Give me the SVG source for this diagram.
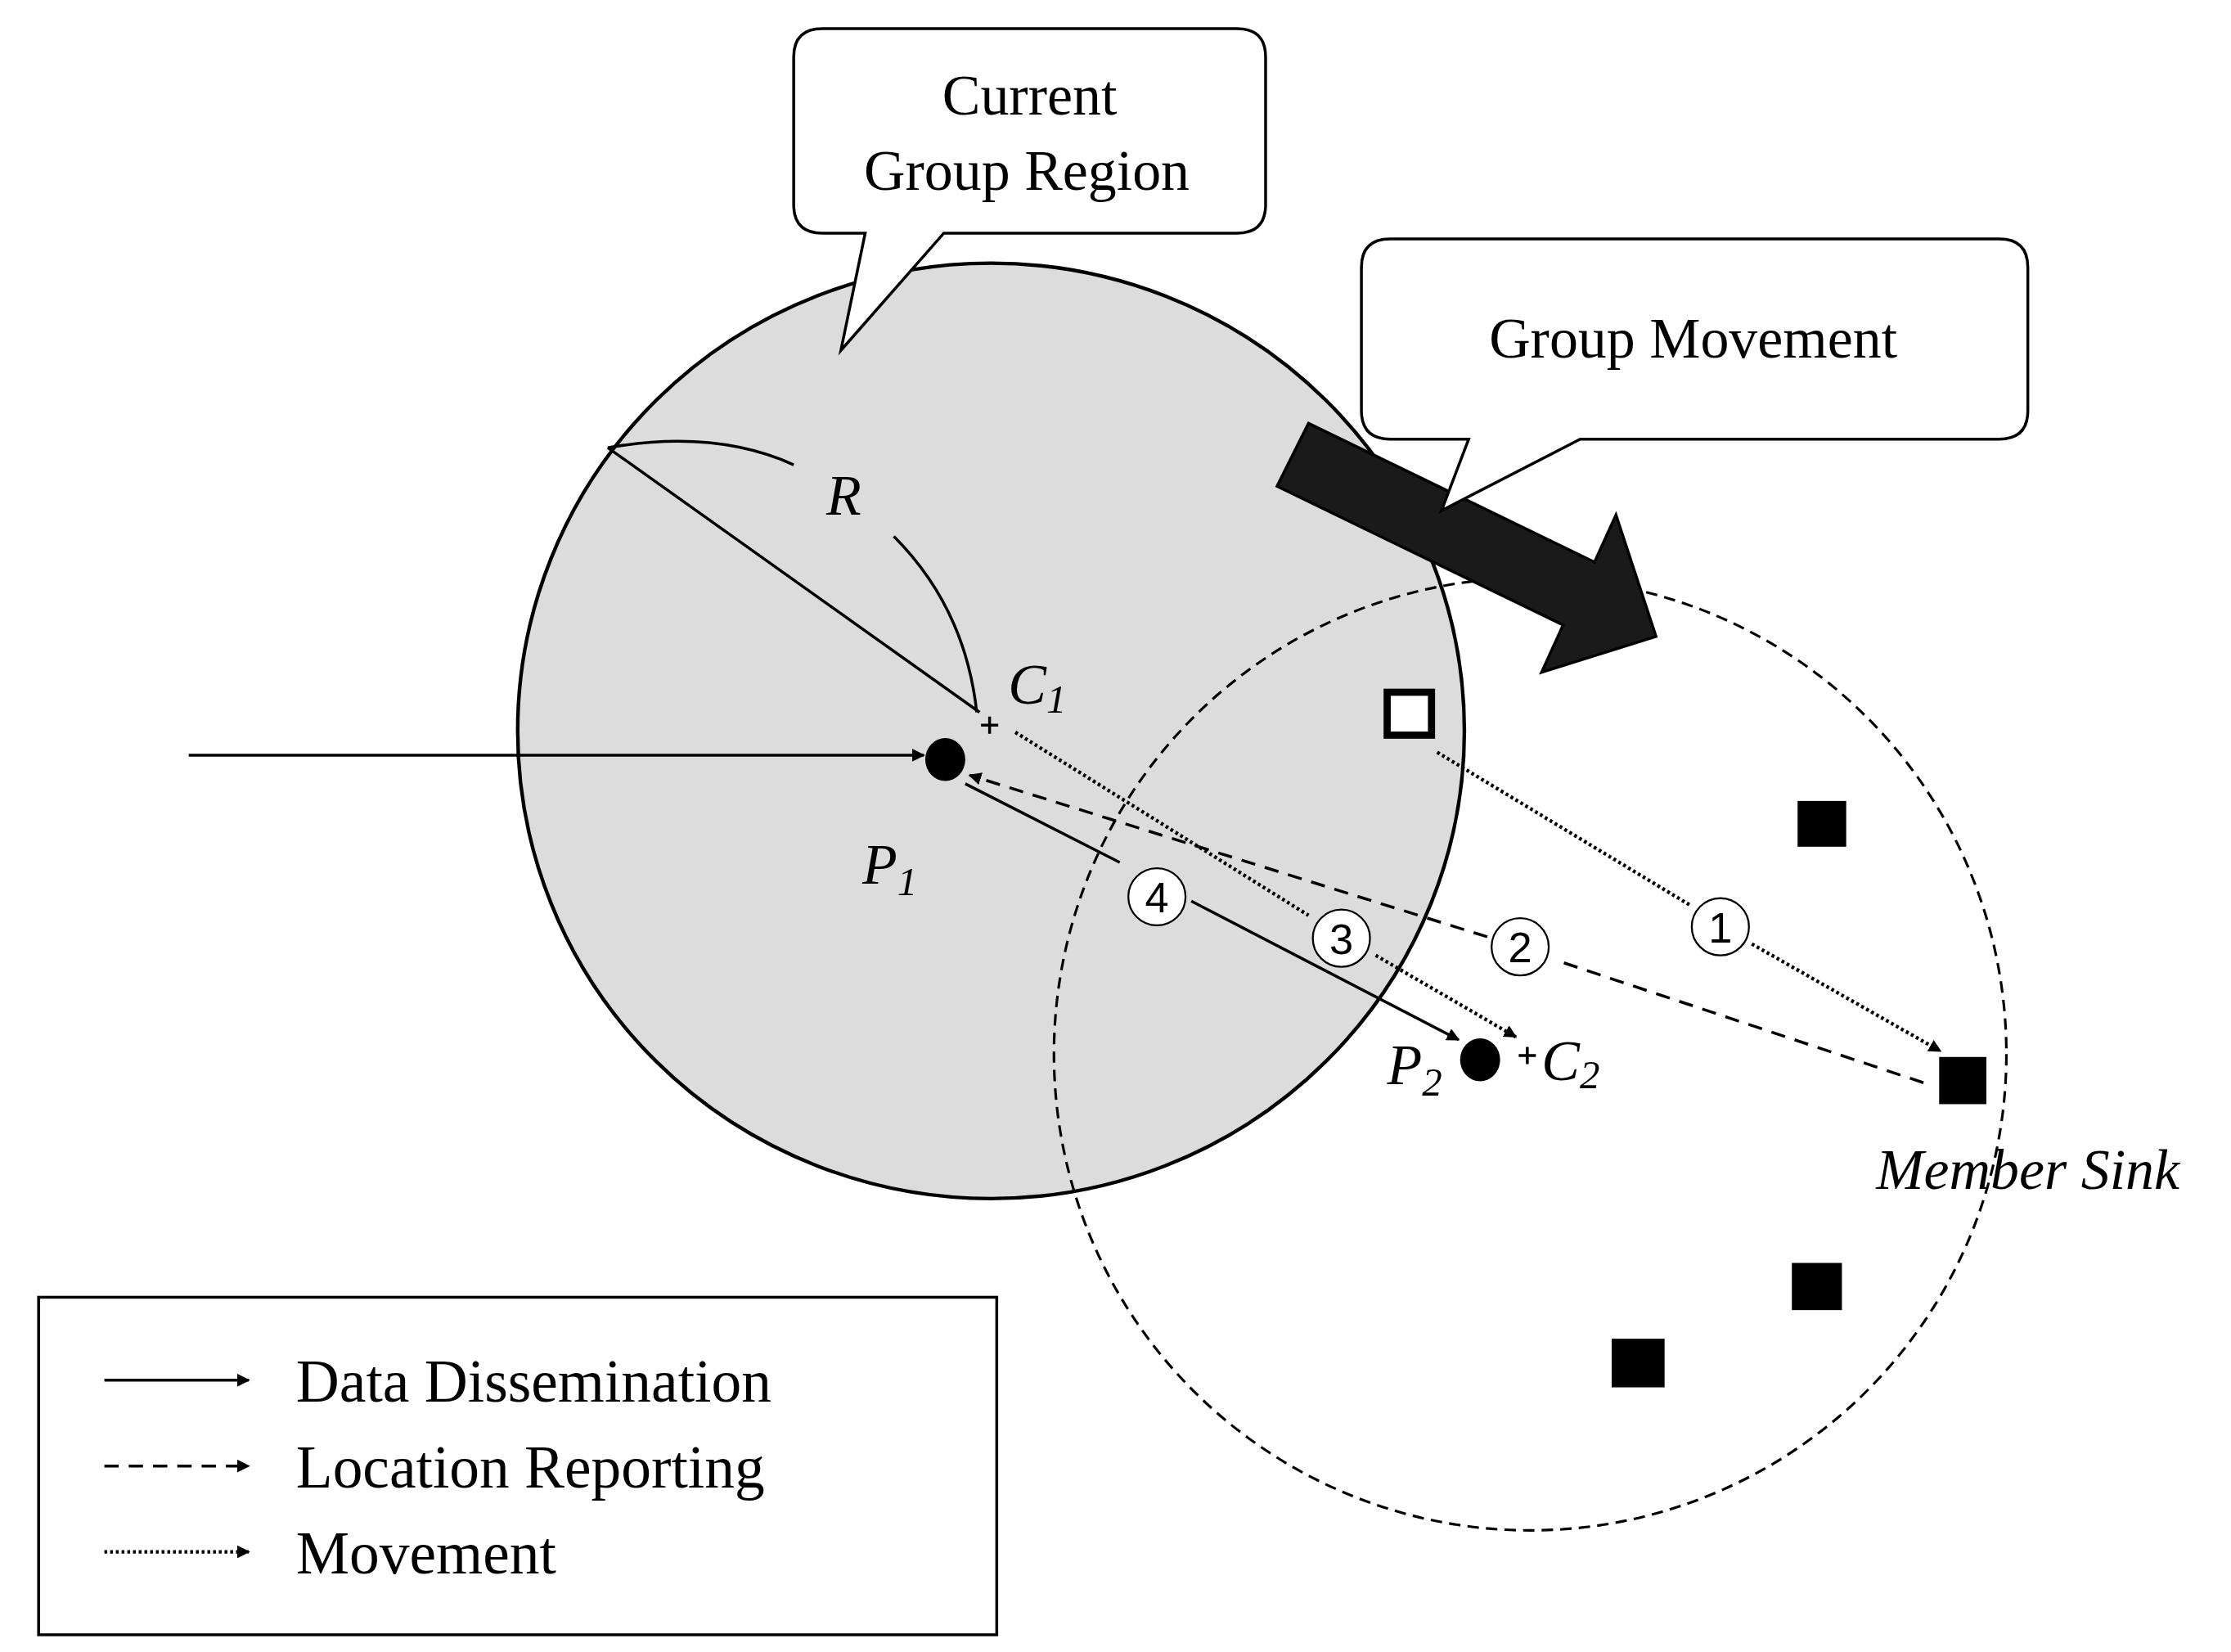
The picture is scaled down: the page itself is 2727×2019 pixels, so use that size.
<svg xmlns="http://www.w3.org/2000/svg" width="2727" height="2019" viewBox="0 0 2727 2019">
<defs>
<style>
.t{font-family:"Liberation Serif",serif;fill:#000}
.i{font-style:italic}
.ln{fill:none;stroke:#000;stroke-width:2}
.dash{stroke-dasharray:10,7}
.dot{stroke-dasharray:2,2;stroke-width:2.5}
.cn{fill:#fff;stroke:#000;stroke-width:1.3}
.cd{font-family:"Liberation Sans",sans-serif;font-size:30px;text-anchor:middle}
</style>
<marker id="ah" viewBox="0 0 10 10" refX="9" refY="5" markerWidth="9" markerHeight="9" markerUnits="userSpaceOnUse" orient="auto"><path d="M0,0 L10,5 L0,10 z" fill="#000"/></marker>
</defs>
<rect width="2727" height="2019" fill="#fff"/>
<g transform="scale(1.748)">
<g id="region1"><ellipse cx="693" cy="511" rx="331" ry="327" fill="#dcdcdc" stroke="#000" stroke-width="2.5"/></g>
<g id="region2"><circle cx="1070" cy="737" r="333" fill="none" stroke="#000" stroke-width="1.8" stroke-dasharray="8,5"/></g>
<g id="bigarrow"><polygon points="915,296 1115,393 1130,360 1158,445 1078,470 1093,437 893,340" fill="#1a1a1a" stroke="#000" stroke-width="2"/></g>
<g id="callout1">
<path d="M575,20 H865 Q885,20 885,40 V143 Q885,163 865,163 H660 L588,245 L605,163 H575 Q555,163 555,143 V40 Q555,20 575,20 Z" fill="#fff" stroke="#000" stroke-width="2"/>
<text class="t" x="720" y="80" font-size="40" text-anchor="middle">Current</text>
<text class="t" x="718" y="133" font-size="40" text-anchor="middle">Group Region</text>
</g>
<g id="callout2">
<path d="M972,167 H1398 Q1418,167 1418,187 V287 Q1418,307 1398,307 H1105 L1008,357 L1027,307 H972 Q952,307 952,287 V187 Q952,167 972,167 Z" fill="#fff" stroke="#000" stroke-width="2"/>
<text class="t" x="1184" y="250" font-size="40" text-anchor="middle">Group Movement</text>
</g>
<g id="radius">
<line class="ln" x1="425" y1="313" x2="685" y2="498"/>
<path class="ln" d="M425,313 Q500,300 555,325"/>
<path class="ln" d="M625,375 Q675,425 683,498"/>
<text class="t i" x="590" y="360" font-size="40" text-anchor="middle">R</text>
</g>
<g id="connectors">
<line class="ln" x1="132" y1="528" x2="646" y2="528" marker-end="url(#ah)"/>
<line class="ln" x1="675" y1="548" x2="783" y2="603"/>
<line class="ln" x1="833" y1="630" x2="1020" y2="727" marker-end="url(#ah)"/>
<line class="ln dash" x1="1345" y1="757" x2="1090" y2="672"/>
<line class="ln dash" x1="1040" y1="655" x2="678" y2="542" marker-end="url(#ah)"/>
<line class="ln dot" x1="710" y1="512" x2="915" y2="640"/>
<line class="ln dot" x1="962" y1="668" x2="1060" y2="725" marker-end="url(#ah)"/>
<line class="ln dot" x1="1005" y1="526" x2="1182" y2="633"/>
<line class="ln dot" x1="1225" y1="660" x2="1357" y2="735" marker-end="url(#ah)"/>
<circle class="cn" cx="809" cy="627" r="20"/><text class="cd" x="809" y="638">4</text>
<circle class="cn" cx="938" cy="656" r="20"/><text class="cd" x="938" y="667">3</text>
<circle class="cn" cx="1063" cy="662" r="20"/><text class="cd" x="1063" y="673">2</text>
<circle class="cn" cx="1203" cy="648" r="20"/><text class="cd" x="1203" y="659">1</text>
</g>
<g id="C1"><path d="M686,507 H698 M692,501 V513" stroke="#000" stroke-width="2"/><text class="t i" x="705" y="492" font-size="40">C<tspan font-size="28" dy="6">1</tspan></text></g>
<g id="P1"><ellipse cx="661" cy="531" rx="14" ry="15" fill="#000"/><text class="t i" x="603" y="618" font-size="40">P<tspan font-size="28" dy="8">1</tspan></text></g>
<g id="P2"><ellipse cx="1035" cy="741" rx="14" ry="15" fill="#000"/><text class="t i" x="970" y="758" font-size="40">P<tspan font-size="28" dy="8">2</tspan></text></g>
<g id="C2"><path d="M1062,738 H1074 M1068,732 V744" stroke="#000" stroke-width="2"/><text class="t i" x="1078" y="755" font-size="40">C<tspan font-size="28" dy="6">2</tspan></text></g>
<g id="sinks">
<rect x="970" y="484" width="31" height="30" fill="#fff" stroke="#000" stroke-width="5"/>
<rect x="1257" y="560" width="34" height="32" fill="#000"/>
<rect x="1356" y="739" width="33" height="33" fill="#000"/>
<rect x="1253" y="883" width="35" height="33" fill="#000"/>
<rect x="1127" y="936" width="37" height="34" fill="#000"/>
<text class="t i" x="1418" y="831" font-size="40" text-anchor="middle">Member Sink</text>
</g>
<g id="legend">
<rect x="27" y="907" width="670" height="236" fill="#fff" stroke="#000" stroke-width="2"/>
<line class="ln" x1="73" y1="965" x2="174" y2="965" marker-end="url(#ah)"/>
<line class="ln dash" x1="73" y1="1025" x2="174" y2="1025" marker-end="url(#ah)"/>
<line class="ln dot" x1="73" y1="1085" x2="174" y2="1085" marker-end="url(#ah)"/>
<text class="t" x="207" y="980" font-size="42">Data Dissemination</text>
<text class="t" x="207" y="1040" font-size="42">Location Reporting</text>
<text class="t" x="207" y="1100" font-size="42">Movement</text>
</g>
</g>
</svg>
